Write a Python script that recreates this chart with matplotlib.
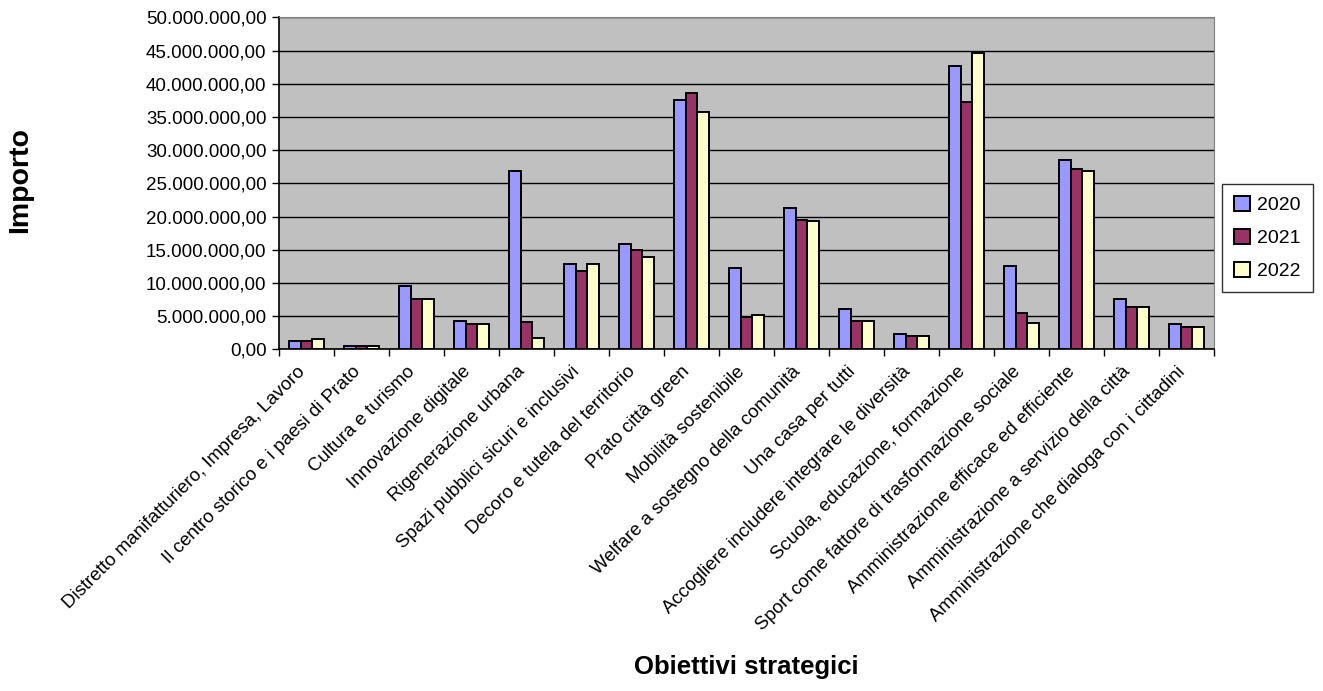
import matplotlib
matplotlib.use("Agg")
import matplotlib.pyplot as plt
import matplotlib.transforms as mtransforms
import numpy as np
from matplotlib.ticker import FuncFormatter, MultipleLocator, FixedLocator

plt.rcParams['font.family'] = ['Liberation Sans', 'DejaVu Sans']

categorie = [
    "Distretto manifatturiero, Impresa, Lavoro",
    "Il centro storico e i paesi di Prato",
    "Cultura e turismo",
    "Innovazione digitale",
    "Rigenerazione urbana",
    "Spazi pubblici sicuri e inclusivi",
    "Decoro e tutela del territorio",
    "Prato città green",
    "Mobilità sostenibile",
    "Welfare a sostegno della comunità",
    "Una casa per tutti",
    "Accogliere includere integrare le diversità",
    "Scuola, educazione, formazione",
    "Sport come fattore di trasformazione sociale",
    "Amministrazione efficace ed efficiente",
    "Amministrazione a servizio della città",
    "Amministrazione che dialoga con i cittadini",
]
anni = ["2020", "2021", "2022"]

# importi in euro
v2020 = [1.25e6, 0.45e6, 9.5e6, 4.3e6, 26.8e6, 12.8e6, 15.9e6, 37.6e6, 12.3e6,
         21.3e6, 6.1e6, 2.3e6, 42.7e6, 12.6e6, 28.6e6, 7.6e6, 3.8e6]
v2021 = [1.25e6, 0.45e6, 7.6e6, 3.8e6, 4.1e6, 11.8e6, 14.9e6, 38.6e6, 4.9e6,
         19.5e6, 4.3e6, 2.0e6, 37.3e6, 5.4e6, 27.2e6, 6.4e6, 3.3e6]
v2022 = [1.5e6, 0.45e6, 7.6e6, 3.8e6, 1.7e6, 12.8e6, 13.9e6, 35.7e6, 5.1e6,
         19.3e6, 4.3e6, 2.0e6, 44.6e6, 3.9e6, 26.8e6, 6.4e6, 3.3e6]

colori = ["#9999FF", "#993366", "#FFFFCC"]

fig = plt.figure(figsize=(13.23, 6.91), dpi=100)
ax = fig.add_axes([0.2109, 0.4945, 0.7067, 0.4802])
ax.set_facecolor("#C0C0C0")

x = np.arange(len(categorie))
w = 0.215
for i, (serie, col) in enumerate(zip([v2020, v2021, v2022], colori)):
    ax.bar(x + (i - 1) * w, serie, width=w, color=col, edgecolor="black",
           linewidth=1.4, label=anni[i], zorder=3)

ax.set_xlim(-0.5, len(categorie) - 0.5)
ax.set_ylim(0, 50e6)
ax.yaxis.set_major_locator(MultipleLocator(5e6))


def fmt_it(v, pos):
    s = f"{v:,.2f}"
    return s.replace(",", "X").replace(".", ",").replace("X", ".")


ax.yaxis.set_major_formatter(FuncFormatter(fmt_it))
ax.yaxis.grid(True, color="black", linewidth=1, zorder=1)
ax.set_axisbelow(True)

# tacche tra le categorie, etichette al centro
ax.xaxis.set_major_locator(FixedLocator(np.arange(-0.5, len(categorie), 1)))
ax.xaxis.set_major_formatter(FuncFormatter(lambda v, p: ""))
ax.xaxis.set_minor_locator(FixedLocator(x))
ax.set_xticklabels(categorie, minor=True, rotation=45, ha="right", va="top",
                   rotation_mode="anchor", fontsize=13.5)
ax.tick_params(axis="x", which="minor", length=0, pad=12)
ax.tick_params(axis="x", which="major", length=5, width=1, direction="out")
ax.tick_params(axis="y", length=5, width=1, direction="out", labelsize=13.5, pad=4)
spost = mtransforms.ScaledTranslation(-0.10, 0.03, fig.dpi_scale_trans)
for lbl in ax.get_xticklabels(minor=True):
    lbl.set_transform(lbl.get_transform() + spost)

for s in ["top", "right"]:
    ax.spines[s].set_color("#808080")
for s in ["left", "bottom"]:
    ax.spines[s].set_color("black")
    ax.spines[s].set_linewidth(1.2)

fig.text(0.5642, 0.035, "Obiettivi strategici", ha="center", va="center",
         fontsize=18.5, fontweight="bold")
fig.text(0.0151, 0.7395, "Importo", ha="center", va="center", rotation=90,
         fontsize=20.5, fontweight="bold")

leg = ax.legend(loc="center", bbox_to_anchor=(0.958, 0.6556),
                bbox_transform=fig.transFigure, fontsize=14, frameon=True,
                fancybox=False, edgecolor="black", handlelength=0.8,
                handleheight=0.8, handletextpad=0.4, labelspacing=0.75,
                borderpad=0.6)
leg.get_frame().set_linewidth(1)

fig.savefig("out.png", dpi=100)
